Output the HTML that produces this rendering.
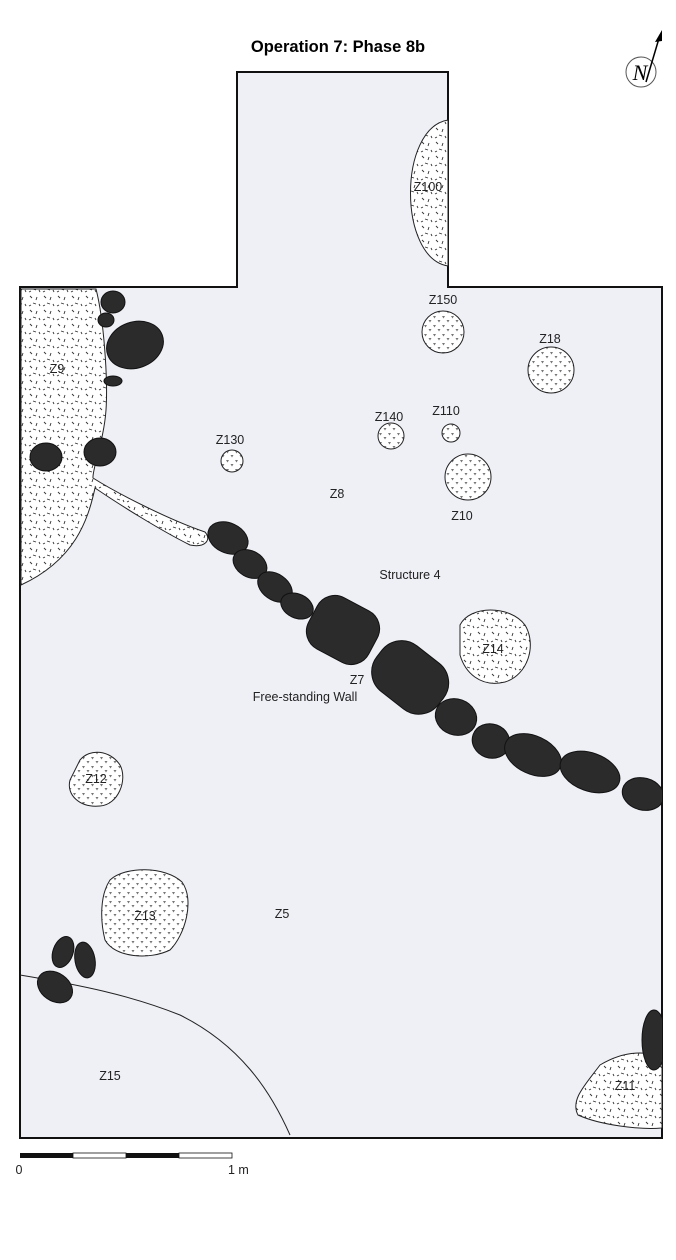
<!DOCTYPE html>
<html><head><meta charset="utf-8"><style>
html,body{margin:0;padding:0;background:#fff;}
svg{display:block;}
text{font-family:"Liberation Sans",sans-serif;font-size:12.5px;fill:#222;}
</style></head><body>
<svg width="676" height="1260" viewBox="0 0 676 1260" xmlns="http://www.w3.org/2000/svg">
<defs>
<pattern id="dash" width="14" height="14" patternUnits="userSpaceOnUse">
<rect width="14" height="14" fill="#fff"/>
<path d="M2 2l2 2M9 3l-1 3M5 9l3 1M11 10l1 2M1 12l2-1" stroke="#333" stroke-width="0.9"/>
</pattern>
<pattern id="tri" width="9" height="9" patternUnits="userSpaceOnUse">
<rect width="9" height="9" fill="#fff"/>
<path d="M1 1l3 0l-1.5 2.5zM5.5 5l3 0l-1.5 2.5z" fill="#777"/>
</pattern>
<clipPath id="box"><rect x="20" y="287" width="642" height="851"/></clipPath>
</defs>
<text x="338" y="52" text-anchor="middle" style="font-size:16.5px;font-weight:bold;fill:#000">Operation 7:   Phase 8b</text>
<!-- north arrow -->
<circle cx="641" cy="72" r="15" fill="none" stroke="#555" stroke-width="1"/>
<text x="640" y="80" text-anchor="middle" style="font-family:'Liberation Serif',serif;font-style:italic;font-size:22px;fill:#000">N</text>
<path d="M646 82 L660 35" stroke="#000" stroke-width="1.5"/>
<path d="M662 30 L655 42 L662 41 Z" fill="#000"/>
<!-- outline -->
<path d="M237 72 H448 V287 H662 V1138 H20 V287 H237 Z" fill="#eff0f6" stroke="#111" stroke-width="2"/>
<!-- Z100 -->
<path d="M448 120 C398 128 398 258 448 266 Z" fill="url(#dash)" stroke="#222" stroke-width="1"/>
<!-- Z9 -->
<path d="M21 289 H96 C104 320 108 380 106 410 C104 440 92 470 93 478 C120 495 170 520 205 532 C212 540 205 548 190 545 C160 530 120 505 95 488 C88 520 75 560 21 585 Z" fill="url(#dash)" stroke="#222" stroke-width="1"/>
<!-- Z11 -->
<path d="M600 1065 C625 1050 650 1050 662 1060 V1128 C640 1130 600 1125 578 1115 C570 1100 585 1085 600 1065 Z" fill="url(#dash)" stroke="#222" stroke-width="1"/>
<!-- Z14 -->
<path d="M460 625 C470 605 510 605 525 625 C537 645 528 675 505 682 C480 688 465 672 460 655 Z" fill="url(#dash)" stroke="#222" stroke-width="1"/>
<!-- Z12 -->
<path d="M80 760 C90 748 110 750 120 765 C128 780 118 805 100 806 C80 808 66 795 70 780 Z" fill="url(#tri)" stroke="#222" stroke-width="1"/>
<!-- Z13 -->
<path d="M110 880 C125 866 165 866 182 882 C195 900 185 935 170 950 C150 960 115 958 105 940 C100 920 100 895 110 880 Z" fill="url(#tri)" stroke="#222" stroke-width="1"/>
<!-- circles -->
<g fill="url(#tri)" stroke="#222" stroke-width="1">
<circle cx="443" cy="332" r="21"/>
<circle cx="551" cy="370" r="23"/>
<circle cx="391" cy="436" r="13"/>
<circle cx="451" cy="433" r="9"/>
<circle cx="468" cy="477" r="23"/>
<circle cx="232" cy="461" r="11"/>
</g>
<!-- Z15 line -->
<path d="M20 975 C80 985 130 995 180 1015 C240 1045 270 1090 290 1135" fill="none" stroke="#222" stroke-width="1"/>
<!-- stones -->
<g fill="#2b2b2b" stroke="#111" stroke-width="1" clip-path="url(#box)">
<ellipse cx="228" cy="538" rx="21" ry="15" transform="rotate(25 228 538)"/>
<ellipse cx="250" cy="564" rx="18" ry="13" transform="rotate(30 250 564)"/>
<ellipse cx="275" cy="587" rx="19" ry="13" transform="rotate(35 275 587)"/>
<ellipse cx="297" cy="606" rx="17" ry="12" transform="rotate(25 297 606)"/>
<rect x="309" y="601" width="68" height="58" rx="20" transform="rotate(28 343 630)"/>
<rect x="372" y="648" width="78" height="58" rx="25" transform="rotate(38 410 676)"/>
<ellipse cx="456" cy="717" rx="21" ry="18" transform="rotate(20 456 717)"/>
<ellipse cx="491" cy="741" rx="19" ry="17" transform="rotate(20 491 741)"/>
<ellipse cx="533" cy="755" rx="30" ry="19" transform="rotate(25 533 755)"/>
<ellipse cx="590" cy="772" rx="31" ry="19" transform="rotate(20 590 772)"/>
<ellipse cx="643" cy="794" rx="21" ry="16" transform="rotate(15 643 794)"/>
<ellipse cx="113" cy="302" rx="12" ry="11"/>
<ellipse cx="106" cy="320" rx="8" ry="7"/>
<ellipse cx="135" cy="345" rx="29" ry="23" transform="rotate(-20 135 345)"/>
<ellipse cx="113" cy="381" rx="9" ry="5"/>
<ellipse cx="46" cy="457" rx="16" ry="14"/>
<ellipse cx="100" cy="452" rx="16" ry="14"/>
<ellipse cx="63" cy="952" rx="10" ry="16" transform="rotate(20 63 952)"/>
<ellipse cx="85" cy="960" rx="10" ry="18" transform="rotate(-10 85 960)"/>
<ellipse cx="55" cy="987" rx="19" ry="14" transform="rotate(35 55 987)"/>
<ellipse cx="654" cy="1040" rx="12" ry="30"/>
</g>
<!-- labels -->
<text x="428" y="191" text-anchor="middle">Z100</text>
<text x="443" y="304" text-anchor="middle">Z150</text>
<text x="550" y="343" text-anchor="middle">Z18</text>
<text x="389" y="421" text-anchor="middle">Z140</text>
<text x="446" y="415" text-anchor="middle">Z110</text>
<text x="230" y="444" text-anchor="middle">Z130</text>
<text x="337" y="498" text-anchor="middle">Z8</text>
<text x="462" y="520" text-anchor="middle">Z10</text>
<text x="410" y="579" text-anchor="middle">Structure 4</text>
<text x="493" y="653" text-anchor="middle">Z14</text>
<text x="357" y="684" text-anchor="middle">Z7</text>
<text x="305" y="701" text-anchor="middle">Free-standing Wall</text>
<text x="96" y="783" text-anchor="middle">Z12</text>
<text x="145" y="920" text-anchor="middle">Z13</text>
<text x="282" y="918" text-anchor="middle">Z5</text>
<text x="110" y="1080" text-anchor="middle">Z15</text>
<text x="625" y="1090" text-anchor="middle">Z11</text>
<text x="57" y="373" text-anchor="middle">Z9</text>
<!-- scale -->
<rect x="20" y="1153" width="53" height="5" fill="#111"/>
<rect x="73" y="1153" width="53" height="5" fill="#fff" stroke="#111" stroke-width="0.8"/>
<rect x="126" y="1153" width="53" height="5" fill="#111"/>
<rect x="179" y="1153" width="53" height="5" fill="#fff" stroke="#111" stroke-width="0.8"/>
<text x="19" y="1174" text-anchor="middle">0</text>
<text x="228" y="1174">1 m</text>
</svg>
</body></html>
